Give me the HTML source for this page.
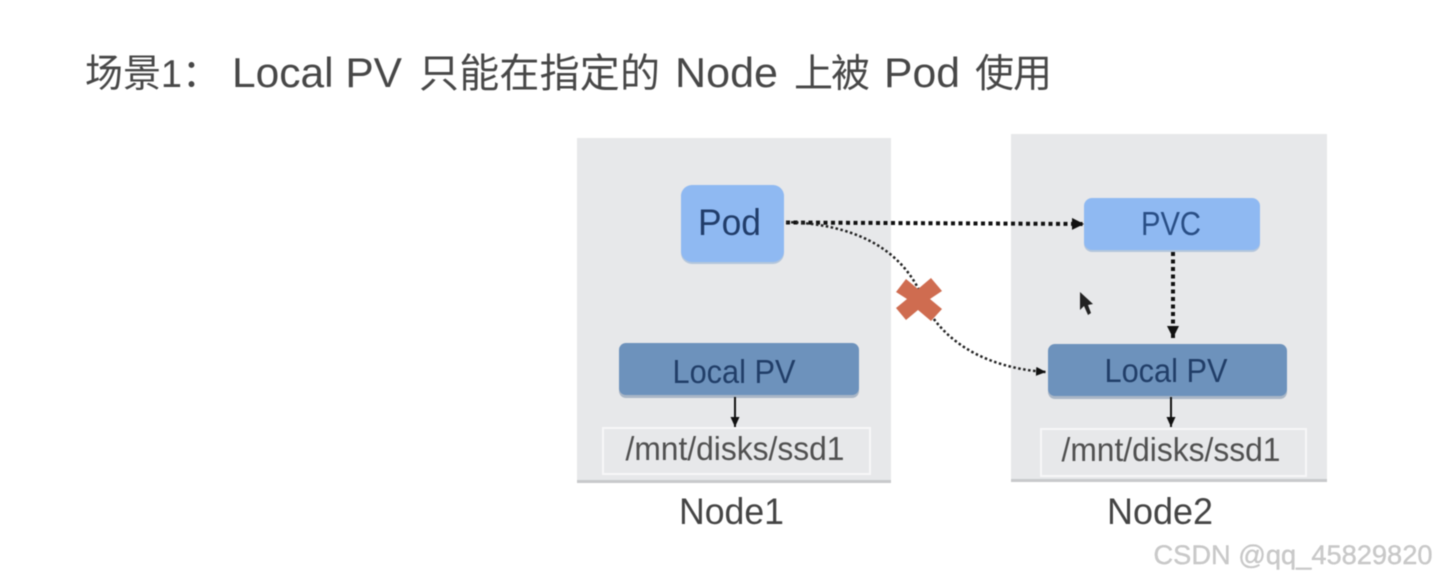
<!DOCTYPE html>
<html><head><meta charset="utf-8"><style>
html,body{margin:0;padding:0;background:#fff;width:1436px;height:580px;overflow:hidden}
svg{display:block;filter:blur(.6px)}
text{font-family:"Liberation Sans","Noto Sans CJK SC",sans-serif}
</style></head><body>
<svg width="1436" height="580" viewBox="0 0 1436 580" xmlns="http://www.w3.org/2000/svg">
<defs>
<marker id="a" markerUnits="userSpaceOnUse" markerWidth="14" markerHeight="14" refX="12" refY="6" orient="auto"><path d="M0 0L12 6L0 12z" fill="#111"/></marker>
<marker id="b" markerUnits="userSpaceOnUse" markerWidth="12" markerHeight="10" refX="10" refY="4.500" orient="auto"><path d="M0 0L10 4.500L0 9z" fill="#111"/></marker>
</defs>
<g font-size="42" fill="#474747">
<text x="85" y="87" font-size="39" textLength="135" lengthAdjust="spacingAndGlyphs">场景1：</text>
<text x="232" y="87" textLength="170" lengthAdjust="spacingAndGlyphs">Local PV</text>
<text x="419" y="87" font-size="40" textLength="241">只能在指定的</text>
<text x="675" y="87" textLength="103" lengthAdjust="spacingAndGlyphs">Node</text>
<text x="794" y="87" font-size="39" textLength="76">上被</text>
<text x="884" y="87" textLength="76" lengthAdjust="spacingAndGlyphs">Pod</text>
<text x="975" y="87" font-size="39" textLength="77">使用</text>
</g>

<rect x="577" y="138" width="314" height="344" fill="#e7e8ea"/>
<rect x="577" y="480" width="314" height="3" fill="#c8c9cb"/>
<rect x="1011" y="134" width="316" height="346" fill="#e7e8ea"/>
<rect x="1011" y="479" width="316" height="3" fill="#c8c9cb"/>

<rect x="681" y="186" width="103" height="78" rx="11" fill="#b4c6dc"/>
<rect x="681" y="185" width="103" height="77" rx="11" fill="#8fb9f2"/>
<text x="729.500" y="235" font-size="37" fill="#213d6a" text-anchor="middle" textLength="63" lengthAdjust="spacingAndGlyphs">Pod</text>

<rect x="1084" y="200" width="176" height="52" rx="8" fill="#b4c6dc"/>
<rect x="1084" y="198" width="176" height="52" rx="8" fill="#8fb9f2"/>
<text x="1171" y="235" font-size="33" fill="#294e85" text-anchor="middle" textLength="60" lengthAdjust="spacingAndGlyphs">PVC</text>

<rect x="619" y="345" width="240" height="53" rx="7" fill="#a9b6c6"/>
<rect x="619" y="343" width="240" height="52" rx="7" fill="#6d92bc"/>
<text x="734" y="383" font-size="33" fill="#213e68" text-anchor="middle" textLength="123" lengthAdjust="spacingAndGlyphs">Local PV</text>

<rect x="1048" y="346" width="239" height="53" rx="7" fill="#a9b6c6"/>
<rect x="1048" y="344" width="239" height="52" rx="7" fill="#6d92bc"/>
<text x="1166" y="382" font-size="33" fill="#213e68" text-anchor="middle" textLength="123" lengthAdjust="spacingAndGlyphs">Local PV</text>

<rect x="603" y="428" width="267" height="46" fill="none" stroke="#f7f7f8" stroke-width="2"/>
<rect x="1041" y="429" width="265" height="47" fill="none" stroke="#f7f7f8" stroke-width="2"/>
<text x="735" y="460" font-size="33" fill="#505050" text-anchor="middle" textLength="219" lengthAdjust="spacingAndGlyphs">/mnt/disks/ssd1</text>
<text x="1171" y="461" font-size="33" fill="#505050" text-anchor="middle" textLength="219" lengthAdjust="spacingAndGlyphs">/mnt/disks/ssd1</text>

<text x="731.500" y="524" font-size="37" fill="#444" text-anchor="middle" textLength="105" lengthAdjust="spacingAndGlyphs">Node1</text>
<text x="1160" y="524" font-size="37" fill="#444" text-anchor="middle" textLength="106" lengthAdjust="spacingAndGlyphs">Node2</text>

<line x1="786" y1="222.500" x2="1084" y2="224" stroke="#111" stroke-width="4" stroke-dasharray="4 3.500" marker-end="url(#a)"/>
<line x1="1173" y1="252" x2="1173" y2="338" stroke="#111" stroke-width="4" stroke-dasharray="4 3.500" marker-end="url(#a)"/>
<path d="M786 222C850 224 895 245 918 288C935 340 985 368 1046 372" fill="none" stroke="#222" stroke-width="2.500" stroke-dasharray="2.500 2.500" marker-end="url(#b)"/>
<line x1="735" y1="397" x2="735" y2="427" stroke="#111" stroke-width="2" marker-end="url(#b)"/>
<line x1="1171" y1="397" x2="1171" y2="427" stroke="#111" stroke-width="2" marker-end="url(#b)"/>

<path d="M896 292L906 279L918 289L931 278L942 291L930 299L942 309L931 321L918 310L906 320L896 308L907 299z" fill="#cf6c50"/>
<path d="M1080 292L1080 310L1084 306L1088 315L1091 313L1088 305L1093 304z" fill="#222"/>

<text x="1293" y="564" font-size="27" fill="#cacaca" stroke="#aaa" stroke-width=".2" text-anchor="middle" textLength="279" lengthAdjust="spacingAndGlyphs">CSDN @qq_45829820</text>
</svg>
</body></html>
